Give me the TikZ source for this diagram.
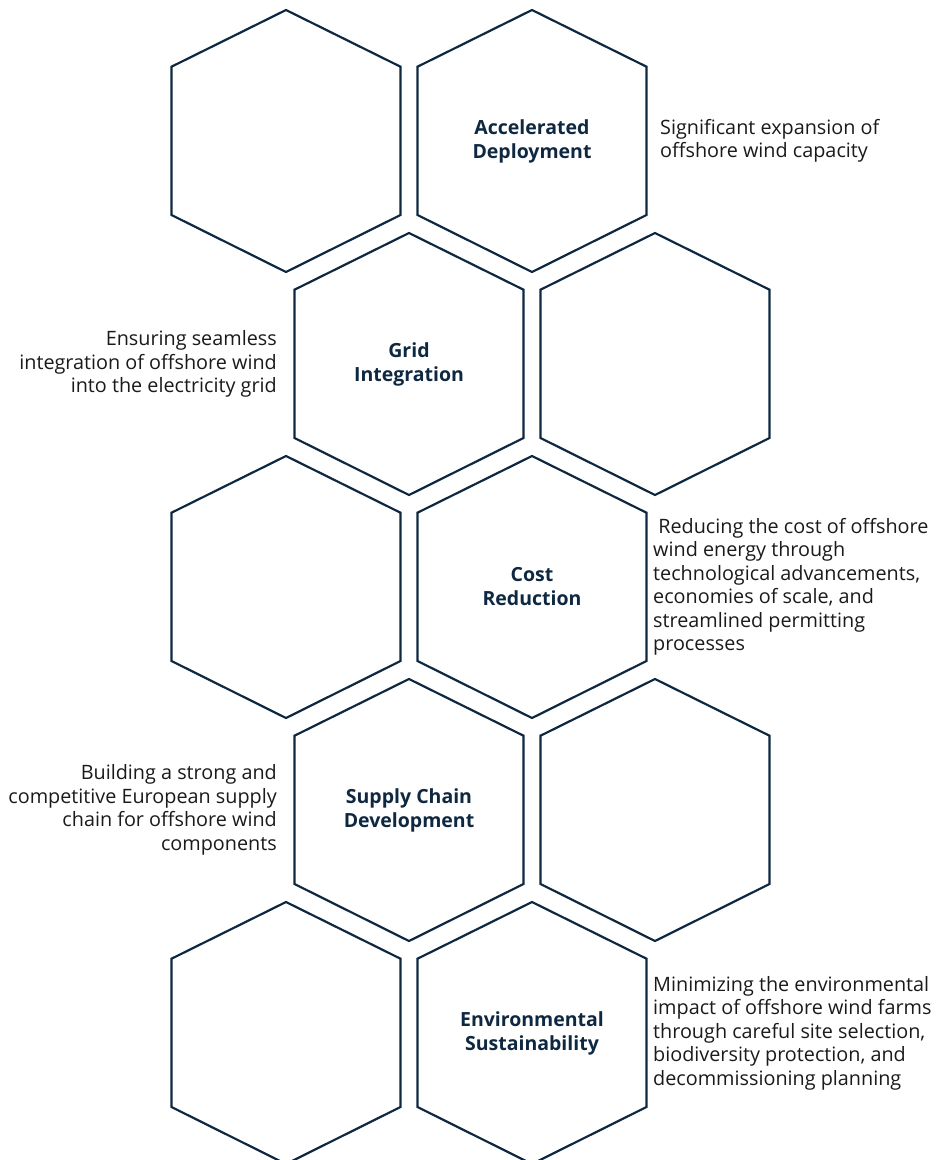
\documentclass[tikz,border=0pt]{standalone}
\usepackage{fontspec}
\setmainfont{Open Sans}
\definecolor{navy}{HTML}{0E2841}
\definecolor{txt}{HTML}{1A1A1A}
\begin{document}
\begin{tikzpicture}[x=1pt,y=-1pt,
  hexline/.style={draw=navy,line width=2.2pt,line join=miter},
  title/.style={text=navy,font=\fontsize{19.5}{24}\selectfont\bfseries,align=center,inner sep=0pt},
  descl/.style={text=txt,font=\fontsize{19.8}{23.5}\selectfont,align=left,anchor=west,inner sep=0pt},
  descr/.style={text=txt,font=\fontsize{19.8}{23.5}\selectfont,align=right,anchor=east,inner sep=0pt}]
\useasboundingbox (0,0) rectangle (937,1160);
\clip (0,0) rectangle (937,1160);
\newcommand\hexat[1]{\draw[hexline] (#1) ++(0,-131) -- ++(114.5,56.7) -- ++(0,148.3) -- ++(-114.5,57) -- ++(-114.5,-57) -- ++(0,-148.3) -- cycle;}
\coordinate (h1a) at (286,141);
\coordinate (h1b) at (532,141);
\coordinate (h2a) at (409,364);
\coordinate (h2b) at (655,364);
\coordinate (h3a) at (286,587);
\coordinate (h3b) at (532,587);
\coordinate (h4a) at (409,810);
\coordinate (h4b) at (655,810);
\coordinate (h5a) at (286,1033);
\coordinate (h5b) at (532,1033);
\foreach \h in {h1a,h1b,h2a,h2b,h3a,h3b,h4a,h4b,h5a,h5b}{\hexat{\h}}
\node[title] (t1) at (h1b) {Accelerated\\Deployment};
\node[title] (t2) at (h2a) {Grid\\Integration};
\node[title] (t3) at (h3b) {Cost\\Reduction};
\node[title] (t4) at (h4a) {Supply Chain\\Development};
\node[title] (t5) at (h5b) {Environmental\\Sustainability};
\node[descl] (d1) at (660,141) {Significant expansion of\\offshore wind capacity};
\node[descr] (d2) at (277,364) {Ensuring seamless\\integration of offshore wind\\into the electricity grid};
\node[descl] (d3) at (653,587) {\ Reducing the cost of offshore\\wind energy through\\technological advancements,\\economies of scale, and\\streamlined permitting\\processes};
\node[descr] (d4) at (277,810) {Building a strong and\\competitive European supply\\chain for offshore wind\\components};
\node[descl] (d5) at (653,1033) {Minimizing the environmental\\impact of offshore wind farms\\through careful site selection,\\biodiversity protection, and\\decommissioning planning};
\end{tikzpicture}
\end{document}
